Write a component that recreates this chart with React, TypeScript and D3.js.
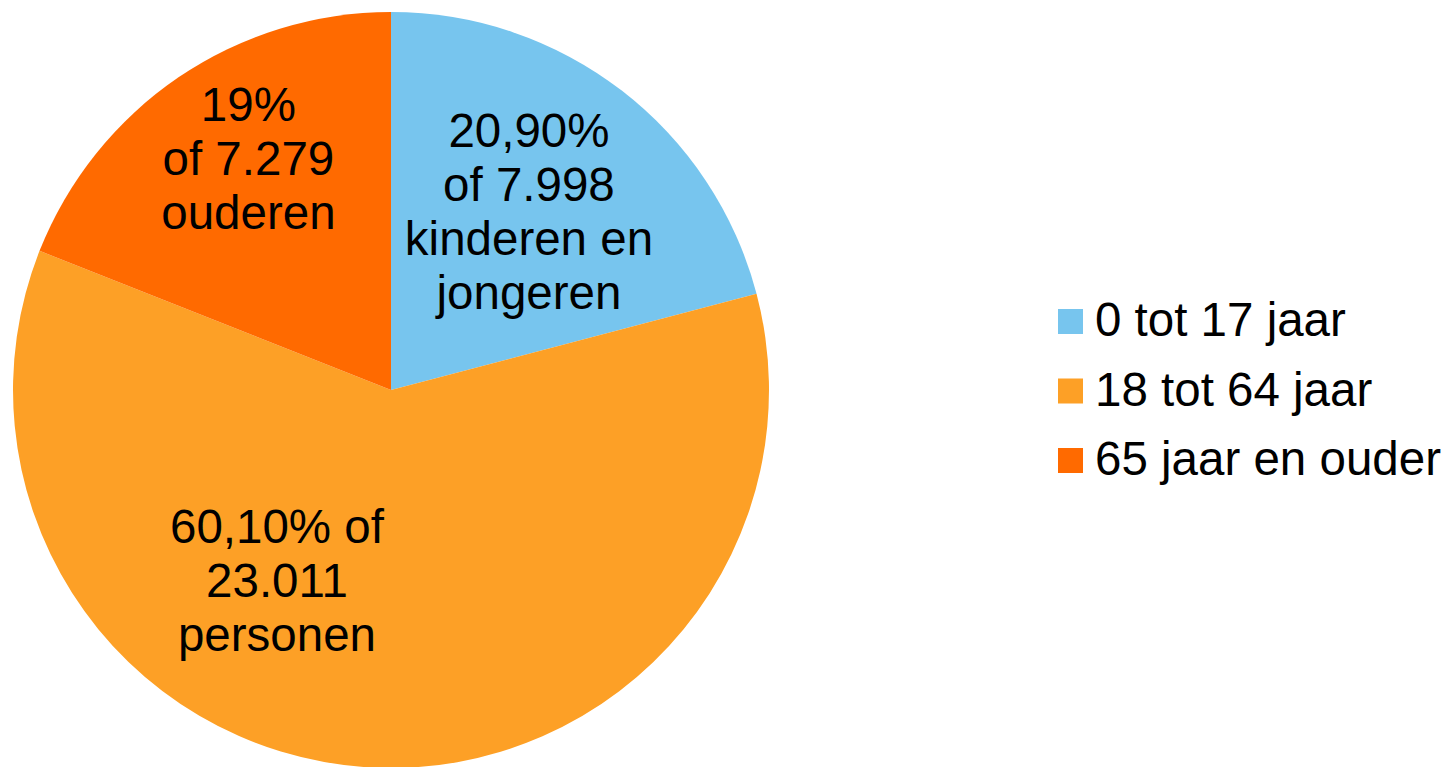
import React from "react";
import * as d3 from "d3";

const categories = ["0 tot 17 jaar", "18 tot 64 jaar", "65 jaar en ouder"];
const percentages = [20.9, 60.1, 19.0];
const labelLines = [
  ["20,90%", "of 7.998", "kinderen en", "jongeren"],
  ["60,10% of", "23.011", "personen"],
  ["19%", "of 7.279", "ouderen"],
];
const colors = ["#77C5EE", "#FDA026", "#FF6A00"];

// layout
const W = 1449;
const H = 767;
const CX = 391;
const CY = 390;
const R = 378;
const FONT = "'Liberation Sans', Arial, sans-serif";
const FS = 47.5;
const LINE = 54;
const labelPlace = [
  { r: 226, da: 0 },
  { r: 222, da: 0.48 },
  { r: 272, da: 0.045 },
];

export default function App() {
  const pie = d3.pie<number>().sort(null).value((d) => d)(percentages);
  const arc = d3.arc<d3.PieArcDatum<number>>().innerRadius(0).outerRadius(R);

  return (
    <svg width={W} height={H} style={{ display: "block", position: "absolute", left: 0, top: 0 }}>
      <g transform={`translate(${CX},${CY})`}>
        {pie.map((p, i) => (
          <path key={i} d={arc(p) || ""} fill={colors[i]} />
        ))}
        {pie.map((p, i) => {
          const mid = (p.startAngle + p.endAngle) / 2 + labelPlace[i].da;
          const x = Math.sin(mid) * labelPlace[i].r;
          const y = -Math.cos(mid) * labelPlace[i].r;
          const lines = labelLines[i];
          const top = y - ((lines.length - 1) * LINE) / 2 + 46 * 0.36;
          return (
            <text key={"l" + i} textAnchor="middle" fontFamily={FONT} fontSize={FS} fill="#000">
              {lines.map((ln, j) => (
                <tspan key={j} x={x} y={top + j * LINE}>
                  {ln}
                </tspan>
              ))}
            </text>
          );
        })}
      </g>
      <g transform="translate(1058,336)">
        {categories.map((c, i) => (
          <g key={c} transform={`translate(0,${i * 69.5})`}>
            <rect x={0} y={-27} width={25} height={25} fill={colors[i]} />
            <text x={37} y={0} fontFamily={FONT} fontSize={FS} fill="#000">
              {c}
            </text>
          </g>
        ))}
      </g>
    </svg>
  );
}
